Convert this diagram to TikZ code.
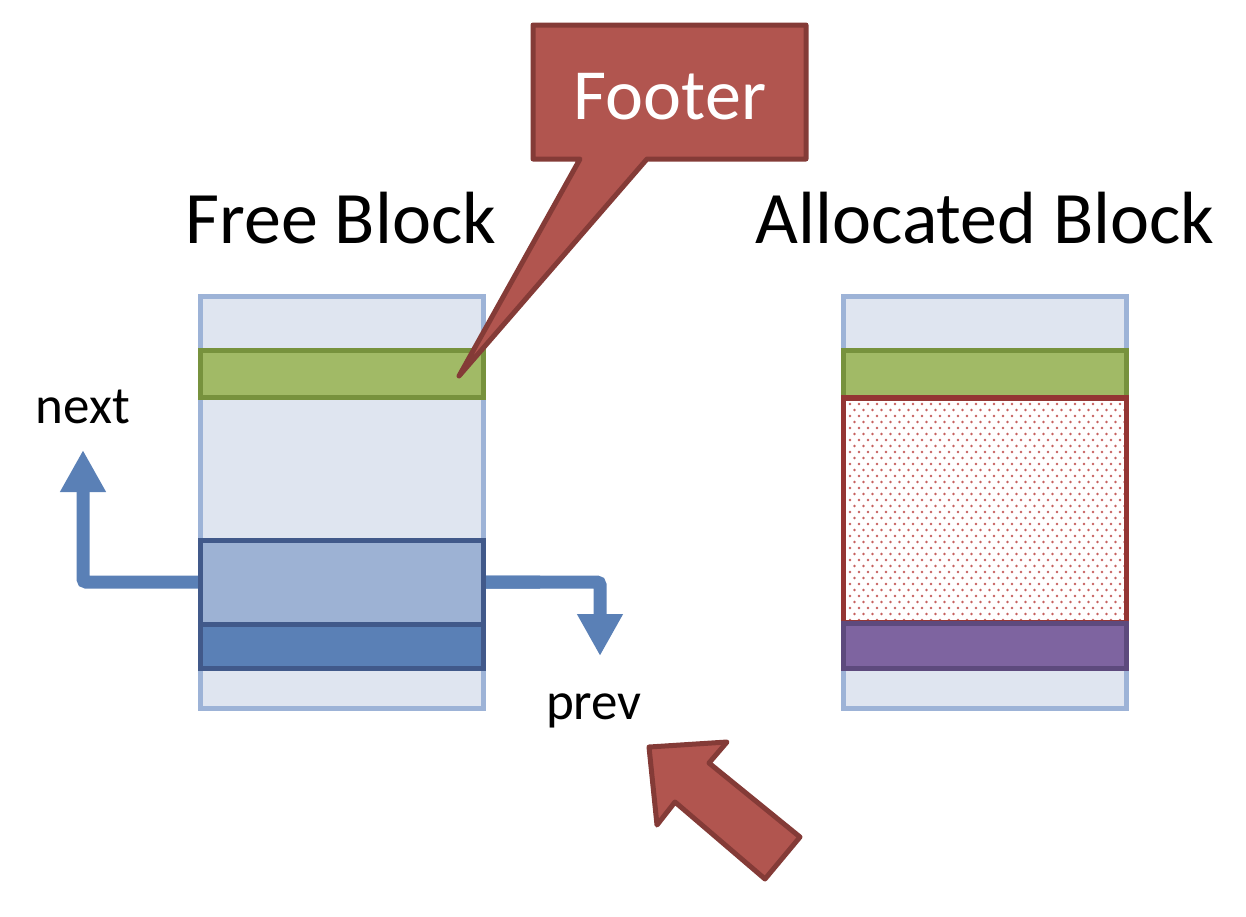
\documentclass[tikz,border=0pt]{standalone}
\usepackage{fontspec}
\setmainfont{Carlito}
\usepackage{xcolor}
\usetikzlibrary{arrows.meta}

\definecolor{blockbg}{HTML}{DFE5F0}
\definecolor{blockedge}{HTML}{9DB3D7}
\definecolor{hdrfill}{HTML}{A1BA66}
\definecolor{hdredge}{HTML}{77923D}
\definecolor{ptrfill}{HTML}{9DB2D4}
\definecolor{ptredge}{HTML}{41598A}
\definecolor{linkblue}{HTML}{5A80B6}
\definecolor{calloutfill}{HTML}{B1554F}
\definecolor{calloutedge}{HTML}{843B37}
\definecolor{payedge}{HTML}{943634}
\definecolor{paydots}{HTML}{C0504D}
\definecolor{ftrfill}{HTML}{7E64A0}
\definecolor{ftredge}{HTML}{5D4A7D}

\begin{document}
\begin{tikzpicture}[x=1pt,y=-1pt]
\tikzset{every node/.style={inner sep=0pt,outer sep=0pt}}
\tikzset{bar/.style={draw,line width=5pt,minimum width=283pt}}
\tikzset{title/.style={font=\fontsize{74}{80}\selectfont,anchor=base}}
\tikzset{ptrlabel/.style={font=\fontsize{53}{60}\selectfont,anchor=base}}
\tikzset{link/.style={draw=linkblue,line width=13pt,rounded corners=3pt,-{Triangle[width=43pt,length=42pt]}}}

\useasboundingbox (0,0) rectangle (1246,916);

\node[title] (freettl) at (341,243) {Free Block};
\node[title] (allocttl) at (985,243) {Allocated Block};

\draw[link] (540,582) -| (83,450);
\draw[link] (480,582) -| (600,656);

\node[bar,fill=blockbg,draw=blockedge,minimum height=412pt] (freeblk) at (341.5,502) {};
\node[bar,fill=hdrfill,draw=hdredge,minimum height=47pt] (freehdr) at (341.5,373.5) {};
\node[bar,fill=ptrfill,draw=ptredge,minimum height=84pt] (ptrbox) at (341.5,582) {};
\node[bar,fill=linkblue,draw=ptredge,minimum height=44pt] (freeftr) at (341.5,646) {};

\node[ptrlabel] (nextlbl) at (83,423) {next};
\node[ptrlabel] (prevlbl) at (594,719) {prev};

\node[bar,fill=blockbg,draw=blockedge,minimum height=412pt] (allocblk) at (985,502) {};
\node[bar,fill=hdrfill,draw=hdredge,minimum height=47pt] (allochdr) at (985,373.5) {};
\node[bar,fill=white,draw=none,minimum height=225pt] (payload) at (985,510.5) {};
\foreach \j in {0,...,36}
  \foreach \i in {0,...,30}
    \fill[paydots!90] ({850+9*\i+4.5*mod(\j,2)},{404+6*\j}) circle (1.3pt);
\draw[payedge,line width=5.5pt] (payload.north west) rectangle (payload.south east);
\node[bar,fill=ftrfill,draw=ftredge,minimum height=45pt] (allocftr) at (985,645.5) {};

\node[minimum width=273pt,minimum height=134pt] (footer) at (669.5,92) {};
\coordinate (footertip) at (459,376);
\filldraw[fill=calloutfill,draw=calloutedge,line width=5pt,line join=round]
  (footer.north west) -- (footer.north east) -- (footer.south east)
  -- (647,159) -- (footertip) -- (580,159) -- (footer.south west) -- cycle;
\node[title,text=white,font=\fontsize{72}{80}\selectfont] (footerlbl) at (670,119) {Footer};

\filldraw[fill=calloutfill,draw=calloutedge,line width=5pt,line join=round]
  (649,747) -- (727,742) -- (709,763) -- (800,837) -- (765,879)
  -- (675,802) -- (657,825) -- cycle;

\end{tikzpicture}
\end{document}
